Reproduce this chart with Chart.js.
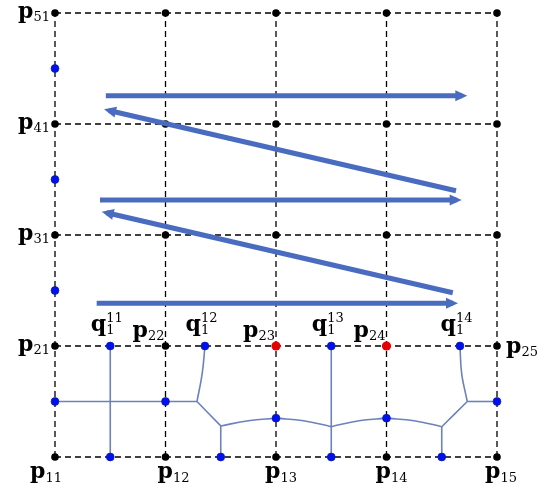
<!DOCTYPE html>
<html>
<head>
<meta charset="utf-8">
<script src="https://cdn.jsdelivr.net/npm/chart.js@4.4.1/dist/chart.umd.min.js"></script>
<style>
	html, body { margin: 0; padding: 0; background: #fff; }
	#wrap { width: 549px; height: 489px; }
</style>
</head>
<body>
<div id="wrap"><canvas id="chart"></canvas></div>
<script>
// Grid of nodes p(row)(col)
var gridCols = [1, 2, 3, 4, 5];
var gridRows = [1, 2, 3, 4, 5];

var redDots = [{x: 3, y: 2}, {x: 4, y: 2}];

var blueDots = [
	{x: 1, y: 2.5}, {x: 1, y: 3.5}, {x: 1, y: 4.5},
	{x: 1.5, y: 2}, {x: 2.357, y: 2}, {x: 3.5, y: 2}, {x: 4.665, y: 2},
	{x: 1, y: 1.5}, {x: 2, y: 1.5}, {x: 3, y: 1.35}, {x: 4, y: 1.35}, {x: 5, y: 1.5},
	{x: 1.5, y: 1}, {x: 2.5, y: 1}, {x: 3.5, y: 1}, {x: 4.5, y: 1}
];

// thin tree between row 1 and row 2
var treeLines = [
	[[1.5, 2], [1.5, 1]],
	[[1, 1.5], [2, 1.5], [2.285, 1.5]],
	[[2.285, 1.5], [2.333, 1.757], [2.357, 2]],
	[[2.285, 1.5], [2.5, 1.28]],
	[[2.5, 1.28], [2.5, 1]],
	[[2.5, 1.28], [2.75, 1.327], [3, 1.35]],
	[[3, 1.35], [3.25, 1.327], [3.5, 1.273]],
	[[3.5, 2], [3.5, 1]],
	[[3.5, 1.273], [3.75, 1.327], [4, 1.35]],
	[[4, 1.35], [4.25, 1.327], [4.5, 1.273]],
	[[4.5, 1.273], [4.5, 1]],
	[[4.5, 1.273], [4.731, 1.5]],
	[[4.731, 1.5], [5, 1.5]],
	[[4.731, 1.5], [4.68, 1.754], [4.665, 2]]
];

// thick zig-zag scan arrows (tail, head)
var scanArrows = [
	[[1.377, 2.385], [4.602, 2.385]],
	[[4.6, 2.48], [1.467, 3.2]],
	[[1.407, 3.315], [4.635, 3.315]],
	[[4.629, 3.399], [1.488, 4.122]],
	[[1.46, 4.255], [4.686, 4.255]]
];

var leftLabels = ["51", "41", "31", "21"];
var leftRows = [5, 4, 3, 2];
var bottomLabels = ["11", "12", "13", "14", "15"];
var rowTwoLabels = ["22", "23", "24"];
var rowTwoCols = [2, 3, 4];
var qLabels = ["11", "12", "13", "14"];
var qCols = [1.5, 2.357, 3.5, 4.665];

function pt(p) { return {x: p[0], y: p[1]}; }

function isRed(x, y) {
	return redDots.some(function(d) { return d.x === x && d.y === y; });
}

var blackDots = [];
gridRows.forEach(function(r) {
	gridCols.forEach(function(c) {
		if(!isRed(c, r)) {
			blackDots.push({x: c, y: r});
		}
	});
});

var datasets = [];

// dashed grid
gridRows.forEach(function(r) {
	datasets.push({
		data: [{x: gridCols[0], y: r}, {x: gridCols[gridCols.length - 1], y: r}],
		showLine: true, pointRadius: 0, borderColor: "#000", borderWidth: 1.3,
		borderDash: [6, 4], order: 4
	});
});
gridCols.forEach(function(c) {
	datasets.push({
		data: [{x: c, y: gridRows[0]}, {x: c, y: gridRows[gridRows.length - 1]}],
		showLine: true, pointRadius: 0, borderColor: "#000", borderWidth: 1.3,
		borderDash: [6, 4], order: 4
	});
});

treeLines.forEach(function(line) {
	datasets.push({
		data: line.map(pt),
		showLine: true, pointRadius: 0, borderColor: "#6c82bd", borderWidth: 1.6,
		tension: 0.4, order: 3
	});
});

datasets.push({data: blackDots, pointRadius: 3.8, backgroundColor: "#000", borderWidth: 0, order: 2});
datasets.push({data: blueDots, pointRadius: 3.9, backgroundColor: "#0010f0", borderColor: "#0a1aa8", borderWidth: 0.8, order: 2});
datasets.push({data: redDots, pointRadius: 4.6, backgroundColor: "#e60000", borderWidth: 0, order: 2});

scanArrows.forEach(function(a) {
	datasets.push({
		data: a.map(pt), arrow: true,
		showLine: true, pointRadius: 0, borderColor: "#4a6cc0", borderWidth: 5,
		borderCapStyle: "butt", order: 1
	});
});

var arrowHeads = {
	id: "arrowHeads",
	afterDatasetsDraw: function(chart) {
		var ctx = chart.ctx;
		chart.data.datasets.forEach(function(ds, i) {
			if(!ds.arrow) {
				return;
			}
			var pts = chart.getDatasetMeta(i).data;
			var a = pts[pts.length - 2], b = pts[pts.length - 1];
			var dx = b.x - a.x, dy = b.y - a.y;
			var len = Math.sqrt(dx * dx + dy * dy);
			var ux = dx / len, uy = dy / len;
			var tipX = b.x + ux * 5, tipY = b.y + uy * 5;
			var baseX = tipX - ux * 12, baseY = tipY - uy * 12;
			ctx.save();
			ctx.fillStyle = ds.borderColor;
			ctx.beginPath();
			ctx.moveTo(tipX, tipY);
			ctx.lineTo(baseX - uy * 5.5, baseY + ux * 5.5);
			ctx.lineTo(baseX + uy * 5.5, baseY - ux * 5.5);
			ctx.closePath();
			ctx.fill();
			ctx.restore();
		});
	}
};

var baseFont = "bold 22px 'DejaVu Serif'";
var scriptFont = "13px 'DejaVu Serif'";

// letter with optional sub/superscript, x is left/centre/right edge per align
function mathLabel(ctx, letter, sub, sup, x, y, align, subDrop) {
	ctx.font = baseFont;
	var wl = ctx.measureText(letter).width;
	ctx.font = scriptFont;
	var ws = Math.max(sub ? ctx.measureText(sub).width : 0, sup ? ctx.measureText(sup).width : 0);
	var total = wl + ws;
	var x0 = align === "right" ? x - total : (align === "center" ? x - total / 2 : x);
	ctx.fillStyle = "#000";
	ctx.textBaseline = "alphabetic";
	ctx.textAlign = "left";
	ctx.font = baseFont;
	ctx.fillText(letter, x0, y);
	ctx.font = scriptFont;
	if(sub) {
		ctx.fillText(sub, x0 + wl, y + subDrop);
	}
	if(sup) {
		ctx.fillText(sup, x0 + wl, y - 9);
	}
}

var labelsPlugin = {
	id: "labels",
	afterDraw: function(chart) {
		var ctx = chart.ctx;
		var sx = chart.scales.x, sy = chart.scales.y;
		ctx.save();
		leftLabels.forEach(function(t, i) {
			mathLabel(ctx, "p", t, null, sx.getPixelForValue(1) - 5, sy.getPixelForValue(leftRows[i]) + 5, "right", 3);
		});
		var nudge = [-9, 8, 5, 5, 4];
		bottomLabels.forEach(function(t, i) {
			mathLabel(ctx, "p", t, null, sx.getPixelForValue(gridCols[i]) + nudge[i], sy.getPixelForValue(1) + 21, "center", 4);
		});
		rowTwoLabels.forEach(function(t, i) {
			mathLabel(ctx, "p", t, null, sx.getPixelForValue(rowTwoCols[i]) - 1, sy.getPixelForValue(2) - 9, "right", 3);
		});
		mathLabel(ctx, "p", "25", null, sx.getPixelForValue(5) + 9, sy.getPixelForValue(2) + 7, "left", 3);
		ctx.font = baseFont;
		var wq = ctx.measureText("q").width;
		qLabels.forEach(function(t, i) {
			mathLabel(ctx, "q", "1", t, sx.getPixelForValue(qCols[i]) - 4 - wq, sy.getPixelForValue(2) - 15, "left", 3);
		});
		ctx.restore();
	}
};

new Chart(document.getElementById("chart").getContext("2d"), {
	type: "scatter",
	data: {datasets: datasets},
	options: {
		responsive: true,
		maintainAspectRatio: false,
		animation: false,
		events: [],
		layout: {padding: {left: 55, right: 52, top: 13, bottom: 32}},
		datasets: {scatter: {clip: false}},
		scales: {
			x: {type: "linear", min: 1, max: 5, display: false},
			y: {type: "linear", min: 1, max: 5, display: false}
		},
		plugins: {legend: {display: false}, tooltip: {enabled: false}}
	},
	plugins: [arrowHeads, labelsPlugin]
});
</script>
</body>
</html>
